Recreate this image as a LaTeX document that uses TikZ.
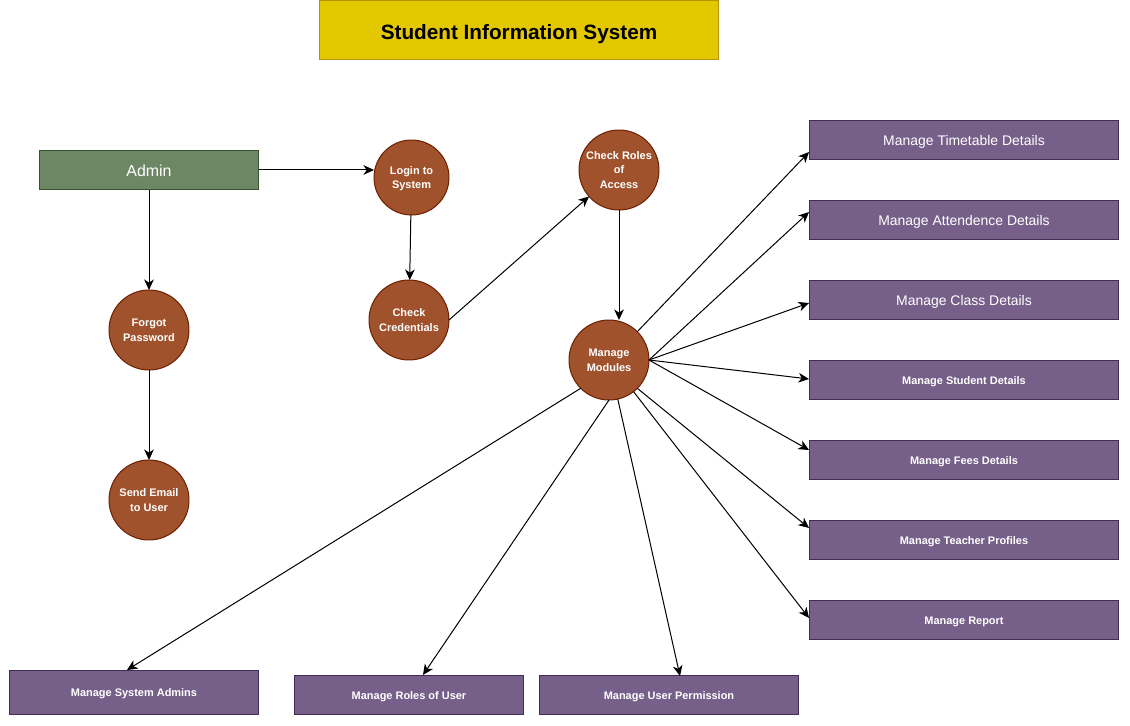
\documentclass[tikz,border=0pt]{standalone}
\usepackage{fontspec}
\setmainfont{Liberation Sans}
\usetikzlibrary{arrows.meta,positioning,calc}
\definecolor{titlefill}{HTML}{E3C800}
\definecolor{titleline}{HTML}{B09500}
\definecolor{adminfill}{HTML}{6D8764}
\definecolor{adminline}{HTML}{3A5431}
\definecolor{procfill}{HTML}{A0522D}
\definecolor{procline}{HTML}{6D1F00}
\definecolor{modfill}{HTML}{76608A}
\definecolor{modline}{HTML}{432D57}

\begin{document}
\begin{tikzpicture}[
  x=0.02cm, y=-0.02cm,
  font=\fontsize{6.24}{8.5}\selectfont\bfseries,
  box/.style={draw, rectangle, inner sep=2pt, outer sep=0pt, align=center, text depth=0pt},
  proc/.style={draw=procline, fill=procfill, circle, minimum size=1.6cm, inner sep=0pt, outer sep=0pt, text=white, align=center, text depth=0pt},
  mod/.style={box, draw=modline, fill=modfill, text=white, minimum height=0.8cm, text height=5pt},
  big/.style={font=\fontsize{7.94}{9.5}\selectfont\mdseries, text height=6.8pt},
  line width=0.57pt, >={Stealth[length=6pt,width=5.5pt,inset=1.8pt]}
]
\useasboundingbox (0,0) rectangle (1130,726);
\node[box, draw=titleline, fill=titlefill, minimum width=8cm, minimum height=1.2cm, text height=10.4pt,
      font=\fontsize{11.8}{14}\selectfont\bfseries] (ttl) at (519,30) {Student Information System};
\node[box, draw=adminline, fill=adminfill, text=white, minimum width=4.4cm, minimum height=0.8cm, text height=7.6pt,
      font=\fontsize{9.07}{11}\selectfont\mdseries] (adm) at (149,170) {Admin};

\node[proc, minimum size=1.5cm] (lgn) at (411.5,177.5) {Login to\\System};
\node[proc] (cred) at (409,320) {Check\\Credentials};
\node[proc] (role) at (619,170) {Check Roles\\of\\Access};
\node[proc] (mm) at (609,360) {Manage\\Modules};
\node[proc] (fgt) at (149,330) {Forgot\\Password};
\node[proc] (mail) at (149,500) {Send Email\\to User};

\node[mod, big, minimum width=6.2cm] (tt) at (964,140) {Manage Timetable Details};
\node[mod, big, minimum width=6.2cm] (att) at (964,220) {Manage Attendence Details};
\node[mod, big, minimum width=6.2cm] (cls) at (964,300) {Manage Class Details};
\node[mod, minimum width=6.2cm] (stu) at (964,380) {Manage Student Details};
\node[mod, minimum width=6.2cm] (fee) at (964,460) {Manage Fees Details};
\node[mod, minimum width=6.2cm] (tch) at (964,540) {Manage Teacher Profiles};
\node[mod, minimum width=6.2cm] (rep) at (964,620) {Manage Report};

\node[mod, minimum width=5cm, minimum height=0.9cm] (sad) at (134,692.5) {Manage System Admins};
\node[mod, minimum width=4.6cm] (rou) at (409,695) {Manage Roles of User};
\node[mod, minimum width=5.2cm] (upm) at (669,695) {Manage User Permission};

\draw[->] (adm.east) -- (adm.east -| lgn.west);
\draw[->] (lgn) -- (cred);
\draw[->] (cred.east) -- (role);
\draw[->] (role.south) -- (role.south |- mm.north);
\draw[->] (adm) -- (fgt);
\draw[->] (fgt) -- (mail);

\draw[->] (mm.45) -- ($(tt.west)+(0,12)$);
\draw[->] (mm.east) -- ($(att.west)+(0,-8)$);
\draw[->] (mm.east) -- ($(cls.west)+(0,3)$);
\draw[->] (mm.east) -- ($(stu.west)+(0,-1)$);
\draw[->] (mm.east) -- ($(fee.west)+(0,-10)$);
\draw[->] (mm.-45) -- ($(tch.west)+(0,-12)$);
\draw[->] (mm) -- ($(rep.west)+(0,-2)$);

\draw[->] (mm.225) -- ($(sad.north)+(-7,0)$);
\draw[->] (mm.south) -- ($(rou.north)+(14,0)$);
\draw[->] (mm) -- ($(upm.north)+(11,1)$);
\end{tikzpicture}
\end{document}
